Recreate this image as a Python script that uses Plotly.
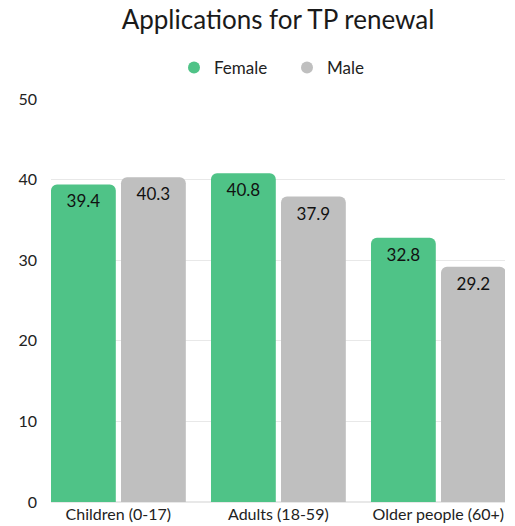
import plotly.graph_objects as go

categories = ["Children (0-17)", "Adults (18-59)", "Older people (60+)"]
female = [39.4, 40.8, 32.8]
male = [40.3, 37.9, 29.2]
series_names = ["Female", "Male"]
colors = ["#4fc387", "#bfbfbf"]
y_ticks = [0, 10, 20, 30, 40, 50]

FONT = "Lato, 'Open Sans', sans-serif"

W, H = 515, 526

fig = go.Figure()
for name, vals, col, off in [(series_names[0], female, colors[0], -0.421),
                             (series_names[1], male, colors[1], 0.0166)]:
    fig.add_trace(go.Bar(
        name=name, x=[0, 1, 2], y=vals,
        width=0.405, offset=off,
        marker=dict(color=col, line=dict(width=0)),
        text=[f"{v:.1f}" for v in vals],
        textposition="inside", insidetextanchor="end",
        textangle=0, constraintext="none",
        insidetextfont=dict(color="#111111", size=17, family=FONT),
        hoverinfo="skip", showlegend=False,
    ))
# legend entries drawn as circles
for name, col in zip(series_names, colors):
    fig.add_trace(go.Scatter(
        name=name, x=[None], y=[None], mode="markers",
        marker=dict(symbol="circle", size=18, color=col),
        showlegend=True, hoverinfo="skip",
    ))

fig.update_layout(
    width=W, height=H,
    margin=dict(l=51, r=10, t=99, b=24, autoexpand=False),
    paper_bgcolor="white", plot_bgcolor="white",
    barcornerradius=6,
    font=dict(family=FONT, color="#222222", size=16),
    title=dict(text="Applications for TP renewal", xref="paper", x=0.5, xanchor="center",
               yref="container", y=1 - 20 / H, yanchor="middle",
               font=dict(size=26, color="#1a1a1a", family=FONT)),
    legend=dict(orientation="h", xref="container", x=287 / W, xanchor="center",
                yref="container", y=1 - 68 / H, yanchor="middle",
                font=dict(size=17, color="#222222", family=FONT),
                itemsizing="constant", itemwidth=30, traceorder="normal",
                entrywidth=68, entrywidthmode="pixels"),
    showlegend=True,
)
fig.update_xaxes(
    range=[-0.421, 2.4166], tickmode="array", tickvals=[0, 1, 2], ticktext=categories,
    showgrid=False, zeroline=False, showline=False, ticks="",
    tickfont=dict(size=16, color="#222222", family=FONT), ticklabelstandoff=1,
)
fig.update_yaxes(
    range=[0, 50], tickmode="array", tickvals=y_ticks,
    showgrid=True, gridcolor="#e8e8e8", gridwidth=1,
    zeroline=True, zerolinecolor="#e8e8e8", showline=False, ticks="",
    tickfont=dict(size=16, color="#222222", family=FONT), ticklabelstandoff=13,
)

# remove the browser's default 8px body margin so the figure fills the window
fig.write_html("out.html", config={"displayModeBar": False},
               post_script="document.body.style.margin='0';")
